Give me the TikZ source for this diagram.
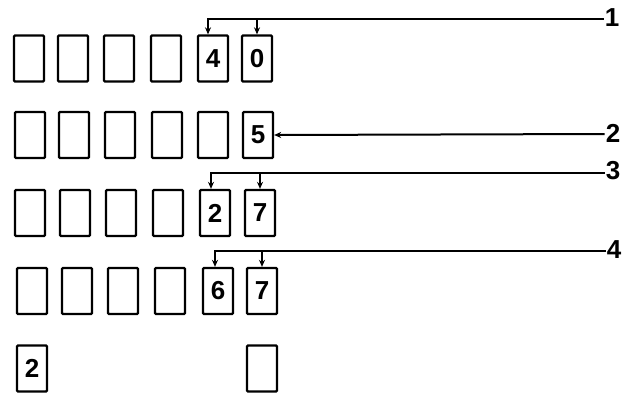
\documentclass[tikz,border=0pt]{standalone}
\usepackage{fontspec}
\setmainfont{Liberation Sans}
\usetikzlibrary{arrows.meta}

\begin{document}
\begin{tikzpicture}[x=1pt, y=-1pt,
  every node/.style={font=\bfseries\fontsize{26}{26}\selectfont},
  cell/.style={draw, rounded corners=1pt, line width=2.3pt, minimum width=30pt, minimum height=46pt, inner sep=0pt},
  tag/.style={inner sep=1pt},
  lead/.style={line width=2pt, -{Stealth[length=7pt,width=6pt]}}
]
\useasboundingbox (0,0) rectangle (624,394);
% rows of cells
\foreach \c/\x in {1/29,2/73,3/119,4/166} \node[cell] (r1c\c) at (\x,58.5) {};
\node[cell] (r1c5) at (213,58.5) {4};
\node[cell] (r1c6) at (257,58.5) {0};
\foreach \c/\x in {1/30,2/74,3/120,4/167,5/213} \node[cell] (r2c\c) at (\x,135) {};
\node[cell] (r2c6) at (258,135) {5};
\foreach \c/\x in {1/30,2/75,3/121,4/168} \node[cell] (r3c\c) at (\x,213) {};
\node[cell] (r3c5) at (215,213) {2};
\node[cell] (r3c6) at (260,213) {7};
\foreach \c/\x in {1/32,2/77,3/123,4/170} \node[cell] (r4c\c) at (\x,291) {};
\node[cell] (r4c5) at (218,291) {6};
\node[cell] (r4c6) at (262,291) {7};
\node[cell] (r5c1) at (32,368.5) {2};
\node[cell] (r5c6) at (262,368.5) {};
% step labels
\node[tag] (t1) at (612,18) {1};
\node[tag] (t2) at (613,133) {2};
\node[tag] (t3) at (613,171) {3};
\node[tag] (t4) at (614,250) {4};
% leaders
\draw[lead] (t1.west |- 0,19) -| ([xshift=-5pt]r1c5.north);
\draw[lead] (r1c6.north |- 0,19) -- (r1c6.north);
\draw[lead] (t2.west |- 0,134) -- (r2c6.east);
\draw[lead] (t3.west |- 0,173) -| ([xshift=-4pt]r3c5.north);
\draw[lead] (r3c6.north |- 0,173) -- (r3c6.north);
\draw[lead] (t4.west |- 0,251) -| ([xshift=-3pt]r4c5.north);
\draw[lead] (r4c6.north |- 0,251) -- (r4c6.north);
\end{tikzpicture}
\end{document}
